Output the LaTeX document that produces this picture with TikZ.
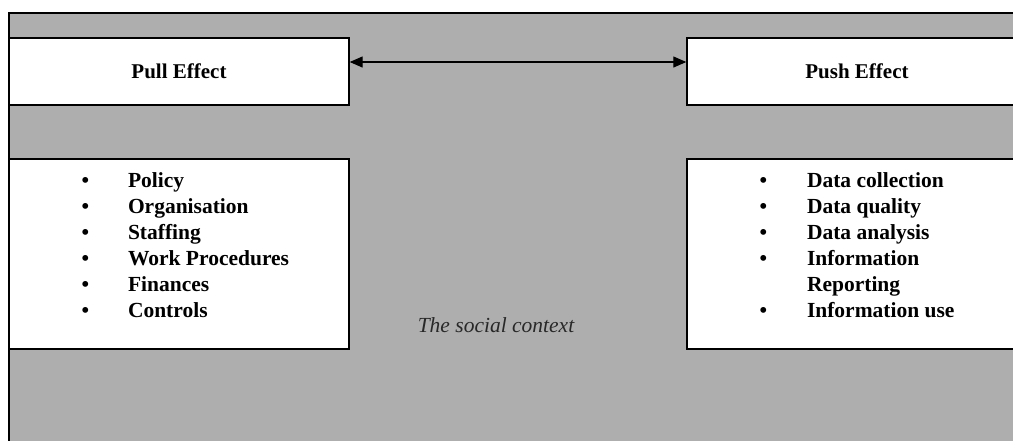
\documentclass[tikz,border=0pt]{standalone}
\usepackage{fontspec}
\setmainfont{Liberation Serif}
\usetikzlibrary{arrows.meta}
\definecolor{ctxgray}{RGB}{174,174,174}
\definecolor{ctxtext}{RGB}{40,40,40}
\tikzset{
  whitebox/.style={draw=black, line width=1.4pt, fill=white, inner sep=0pt},
  headtext/.style={font=\fontsize{21}{26}\selectfont\bfseries},
  listtext/.style={inner sep=0pt, anchor=north west, font=\fontsize{21.5}{26}\selectfont\bfseries},
  link/.style={line width=1.2pt, {Triangle[length=13pt,width=11pt]}-{Triangle[length=13pt,width=11pt]}}
}
\begin{document}
\begin{tikzpicture}[x=1pt,y=-1pt]
\useasboundingbox (0,0) rectangle (1013,440);
\clip (0,0) rectangle (1013,440);
\fill[white] (0,0) rectangle (1013,440);
% social context background
\draw[line width=1.4pt, fill=ctxgray] (9,13) rectangle (1030,460);
% heads
\node[whitebox, headtext, minimum width=340pt, minimum height=67pt] (pullHead) at (179,71.5) {Pull Effect};
\node[whitebox, headtext, minimum width=340pt, minimum height=67pt] (pushHead) at (857,71.5) {Push Effect};
% lists
\node[whitebox, minimum width=340pt, minimum height=190pt] (pullList) at (179,254) {};
\node[whitebox, minimum width=340pt, minimum height=190pt] (pushList) at (857,254) {};
\node[listtext] (pullItems) at ([xshift=73pt,yshift=-11pt]pullList.north west) {%
\begin{tabular}{@{}l@{\hspace{39pt}}l@{}}
\textbullet & Policy\\
\textbullet & Organisation\\
\textbullet & Staffing\\
\textbullet & Work Procedures\\
\textbullet & Finances\\
\textbullet & Controls
\end{tabular}};
\node[listtext] (pushItems) at ([xshift=73pt,yshift=-11pt]pushList.north west) {%
\begin{tabular}{@{}l@{\hspace{40pt}}l@{}}
\textbullet & Data collection\\
\textbullet & Data quality\\
\textbullet & Data analysis\\
\textbullet & Information\\
 & Reporting\\
\textbullet & Information use
\end{tabular}};
% context label
\node[font=\fontsize{21.5}{26}\selectfont\itshape, text=ctxtext] (ctx) at (496,325) {The social context};
% connector
\draw[link] ([yshift=9.5pt]pullHead.east) -- ([yshift=9.5pt]pushHead.west);
\end{tikzpicture}
\end{document}
